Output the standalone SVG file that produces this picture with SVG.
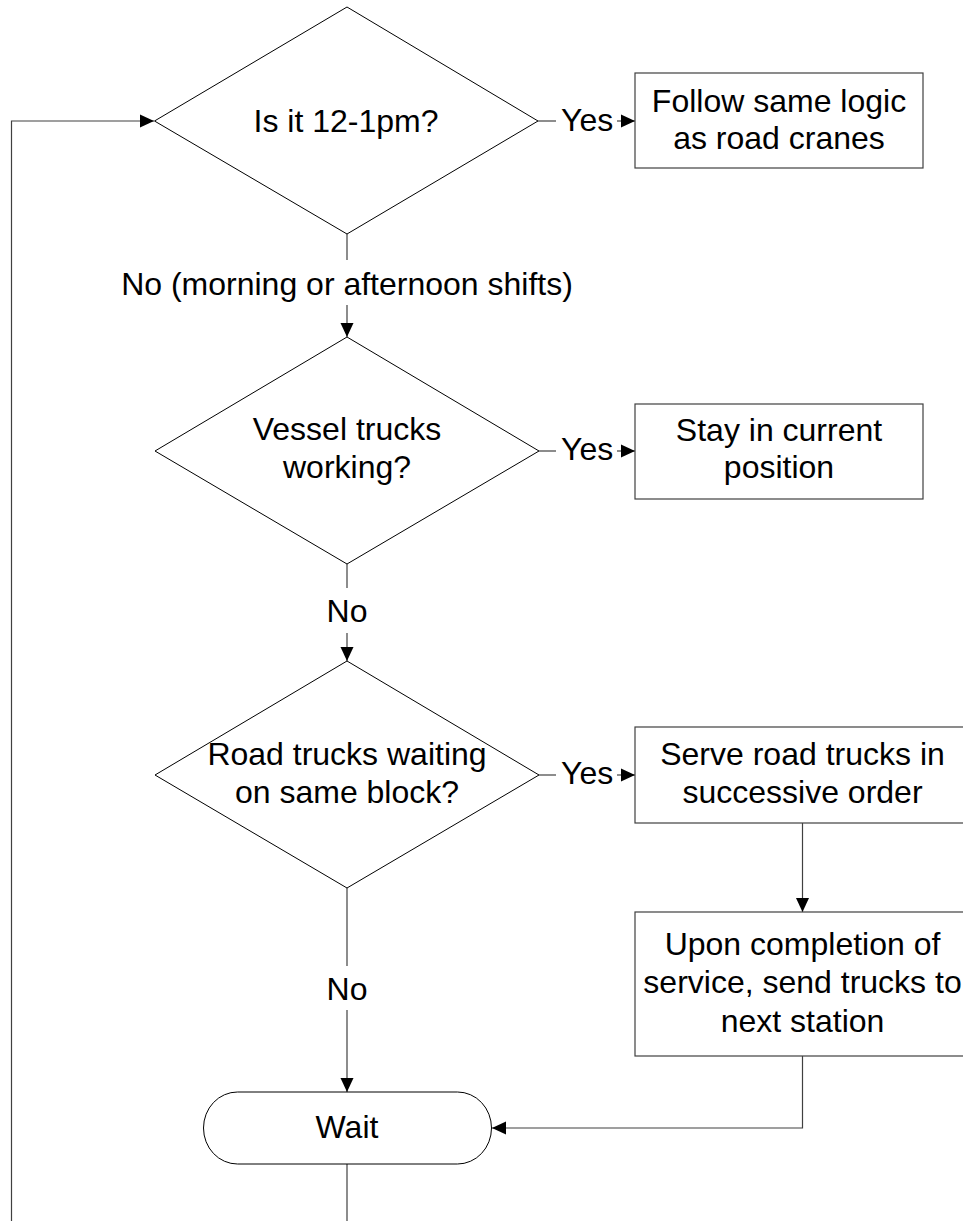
<svg xmlns="http://www.w3.org/2000/svg" width="963" height="1221" viewBox="0 0 963 1221">
  <style>
    .shape { fill: #ffffff; stroke: #000000; stroke-width: 1; }
    .box { fill: #ffffff; stroke: #404040; stroke-width: 1.2; }
    .conn { fill: none; stroke: #404040; stroke-width: 1.2; }
    .t { font-family: "Liberation Sans", Arial, sans-serif; font-size: 32px; fill: #000000; text-anchor: middle; }
    .ts { font-family: "Liberation Sans", Arial, sans-serif; font-size: 32px; fill: #000000; text-anchor: start; }
  </style>
  <defs>
    <marker id="arrow" markerUnits="userSpaceOnUse" markerWidth="14" markerHeight="14" refX="14" refY="7" orient="auto">
      <path d="M0,0.5 L14,7 L0,13.5 z" fill="#000000"/>
    </marker>
  </defs>
  <rect x="0" y="0" width="963" height="1221" fill="#ffffff"/>

  <g id="connectors">
    <!-- loop back -->
    <polyline class="conn" points="11.5,1221 11.5,121 154,121" marker-end="url(#arrow)"/>
    <!-- D1 yes -->
    <line class="conn" x1="538" y1="121" x2="556" y2="121"/>
    <line class="conn" x1="617" y1="121" x2="635" y2="121" marker-end="url(#arrow)"/>
    <!-- D1 no -->
    <line class="conn" x1="347" y1="234" x2="347" y2="260"/>
    <line class="conn" x1="347" y1="305" x2="347" y2="337" marker-end="url(#arrow)"/>
    <!-- D2 yes -->
    <line class="conn" x1="539" y1="451" x2="556" y2="451"/>
    <line class="conn" x1="617" y1="451" x2="635" y2="451" marker-end="url(#arrow)"/>
    <!-- D2 no -->
    <line class="conn" x1="347" y1="564" x2="347" y2="588"/>
    <line class="conn" x1="347" y1="633" x2="347" y2="661" marker-end="url(#arrow)"/>
    <!-- D3 yes -->
    <line class="conn" x1="539" y1="775" x2="556" y2="775"/>
    <line class="conn" x1="617" y1="775" x2="635" y2="775" marker-end="url(#arrow)"/>
    <!-- box3 to box4 -->
    <line class="conn" x1="802.5" y1="823" x2="802.5" y2="912" marker-end="url(#arrow)"/>
    <!-- D3 no -->
    <line class="conn" x1="347" y1="888" x2="347" y2="966"/>
    <line class="conn" x1="347" y1="1010" x2="347" y2="1092" marker-end="url(#arrow)"/>
    <!-- box4 to wait -->
    <polyline class="conn" points="802.5,1056 802.5,1128 492,1128" marker-end="url(#arrow)"/>
    <!-- wait down -->
    <line class="conn" x1="347" y1="1164" x2="347" y2="1221"/>
    <!-- labels -->
    <text class="ts" x="561" y="131">Yes</text>
    <text class="t" x="347" y="295">No (morning or afternoon shifts)</text>
    <text class="ts" x="561" y="460">Yes</text>
    <text class="t" x="347" y="622">No</text>
    <text class="ts" x="561" y="784">Yes</text>
    <text class="t" x="347" y="1000">No</text>
  </g>

  <g id="d1">
    <polygon class="shape" points="347,7 538,121 347,234 154.5,121"/>
    <text class="t" x="346" y="132">Is it 12-1pm?</text>
  </g>
  <g id="b1">
    <rect class="box" x="635" y="73" width="288" height="95"/>
    <text class="t" x="779" y="112">Follow same logic</text>
    <text class="t" x="779" y="149">as road cranes</text>
  </g>
  <g id="d2">
    <polygon class="shape" points="347,337 539,451 347,564 155,451"/>
    <text class="t" x="347" y="440">Vessel trucks</text>
    <text class="t" x="347" y="478">working?</text>
  </g>
  <g id="b2">
    <rect class="box" x="635" y="404" width="288" height="95"/>
    <text class="t" x="779" y="441">Stay in current</text>
    <text class="t" x="779" y="478">position</text>
  </g>
  <g id="d3">
    <polygon class="shape" points="347,661 539,775 347,888 155,775"/>
    <text class="t" x="347" y="765">Road trucks waiting</text>
    <text class="t" x="347" y="803">on same block?</text>
  </g>
  <g id="b3">
    <rect class="box" x="635" y="727" width="335" height="96"/>
    <text class="t" x="802.5" y="765">Serve road trucks in</text>
    <text class="t" x="802.5" y="803">successive order</text>
  </g>
  <g id="b4">
    <rect class="box" x="635" y="912" width="335" height="144"/>
    <text class="t" x="802.5" y="955">Upon completion of</text>
    <text class="t" x="802.5" y="993">service, send trucks to</text>
    <text class="t" x="802.5" y="1032">next station</text>
  </g>
  <g id="wait">
    <rect class="shape" x="203.5" y="1092" width="288" height="72" rx="34" ry="36"/>
    <text class="t" x="347" y="1138">Wait</text>
  </g>
</svg>
